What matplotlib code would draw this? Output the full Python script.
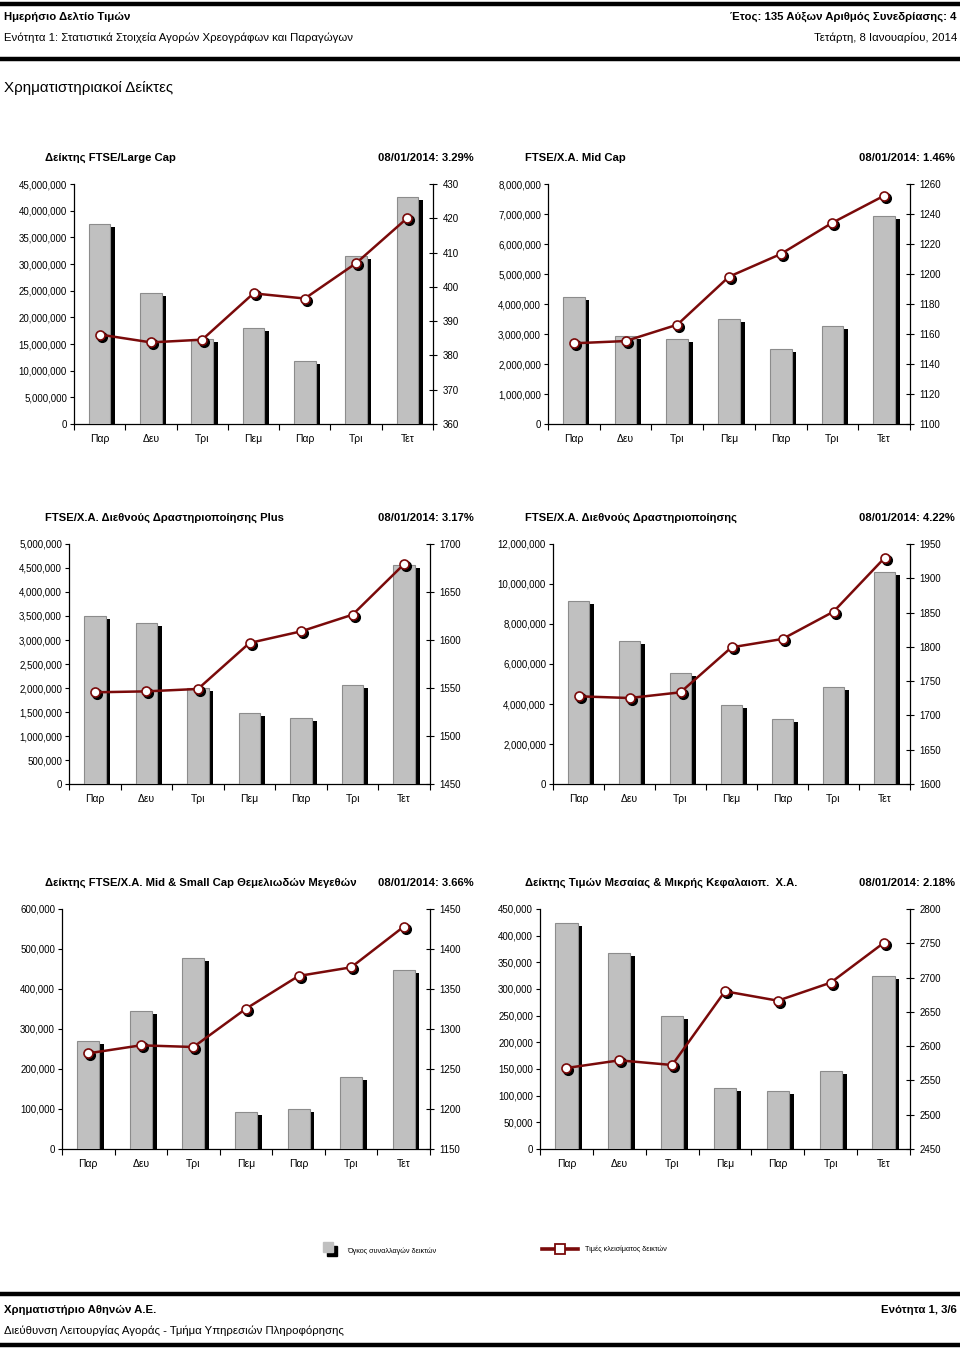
import numpy as np
import matplotlib
matplotlib.use('Agg')
import matplotlib.pyplot as plt
from matplotlib import font_manager
from matplotlib.patches import Rectangle
from matplotlib.lines import Line2D
from matplotlib.ticker import FuncFormatter, MultipleLocator, FixedLocator
from matplotlib.transforms import offset_copy

# fonts: Arial-like, narrow variant for headings if available
names = {f.name for f in font_manager.fontManager.ttflist}
SANS = 'Liberation Sans' if 'Liberation Sans' in names else 'DejaVu Sans'
NARROW = 'Liberation Sans Narrow' if 'Liberation Sans Narrow' in names else SANS
plt.rcParams['font.family'] = [SANS, 'DejaVu Sans']
# narrow font missing -> shrink the heading sizes instead
shrink = 1.0 if NARROW != SANS else 0.84

days = ['Παρ', 'Δευ', 'Τρι', 'Πεμ', 'Παρ', 'Τρι', 'Τετ']

# volumes (left axis) and closing prices (right axis)
large_vol = [37.5e6, 24.5e6, 15.9e6, 18.0e6, 11.9e6, 31.5e6, 42.6e6]
large_close = [386.1, 383.8, 384.6, 398.1, 396.6, 406.9, 420.1]
mid_vol = [4.23e6, 2.94e6, 2.83e6, 3.50e6, 2.49e6, 3.26e6, 6.92e6]
mid_close = [1153.8, 1155.3, 1166.2, 1198.2, 1213.3, 1234.2, 1252.2]
plus_vol = [3.51e6, 3.35e6, 2.01e6, 1.47e6, 1.38e6, 2.06e6, 4.56e6]
plus_close = [1545.5, 1546.5, 1549.0, 1596.9, 1609.0, 1626.4, 1679.2]
intl_vol = [9.15e6, 7.15e6, 5.55e6, 3.95e6, 3.25e6, 4.85e6, 10.62e6]
intl_close = [1727.9, 1725.4, 1733.7, 1799.3, 1811.5, 1851.3, 1929.6]
msf_vol = [270.8e3, 344e3, 478e3, 91.7e3, 100e3, 181e3, 446.7e3]
msf_close = [1269.6, 1279.6, 1277.5, 1325.4, 1366.3, 1377.1, 1427.9]
msc_vol = [423e3, 368e3, 250e3, 113.7e3, 108.7e3, 146.9e3, 325e3]
msc_close = [2568.1, 2579.3, 2572.5, 2680.0, 2666.3, 2692.6, 2750.4]

titles = ['Δείκτης FTSE/Large Cap',
          'FTSE/Χ.Α. Mid Cap',
          'FTSE/Χ.Α. Διεθνούς Δραστηριοποίησης Plus',
          'FTSE/Χ.Α. Διεθνούς Δραστηριοποίησης',
          'Δείκτης FTSE/Χ.Α. Mid & Small Cap Θεμελιωδών Μεγεθών',
          'Δείκτης Τιμών Μεσαίας & Μικρής Κεφαλαιοπ.  Χ.Α.']
changes = ['08/01/2014: 3.29%', '08/01/2014: 1.46%', '08/01/2014: 3.17%',
           '08/01/2014: 4.22%', '08/01/2014: 3.66%', '08/01/2014: 2.18%']

vol_axis = [(45e6, 5e6), (8e6, 1e6), (5e6, 5e5), (12e6, 2e6), (6e5, 1e5), (4.5e5, 5e4)]
close_axis = [(360, 430, 10), (1100, 1260, 20), (1450, 1700, 50),
              (1600, 1950, 50), (1150, 1450, 50), (2450, 2800, 50)]
vols = [large_vol, mid_vol, plus_vol, intl_vol, msf_vol, msc_vol]
closes = [large_close, mid_close, plus_close, intl_close, msf_close, msc_close]

W, H = 960, 1348
fig = plt.figure(figsize=(W / 100, H / 100), dpi=100)


def fx(x):
    return x / W


def fy(y):
    return 1 - y / H


# axes boxes in pixels: left, right, top, bottom
boxes = [(74, 433, 184, 424), (548, 910, 184, 424),
         (69, 430, 544, 784), (553, 910, 544, 784),
         (62, 430, 909, 1149), (540, 910, 909, 1149)]
title_x = [(45, 474), (525, 955)]

RED = '#7a0a0a'
x = np.arange(len(days))
nf = [NARROW, 'DejaVu Sans']

for i, (l, r, t, b) in enumerate(boxes):
    ax = fig.add_axes([fx(l), fy(b), fx(r) - fx(l), (b - t) / H])
    ax2 = ax.twinx()
    vmax, vstep = vol_axis[i]
    cmin, cmax, cstep = close_axis[i]
    v = np.array(vols[i])

    # shadow bars then gray bars
    pxu = vmax / (b - t)
    ax.bar(x + 0.09, v - 3 * pxu, width=0.42, color='black', zorder=2)
    ax.bar(x, v, width=0.42, color='#c0c0c0', edgecolor='#8c8c8c', lw=0.8, zorder=3)

    ax.set_xlim(-0.5, len(days) - 0.5)
    ax.set_ylim(0, vmax)
    ax.yaxis.set_major_locator(MultipleLocator(vstep))
    ax.yaxis.set_major_formatter(FuncFormatter(lambda val, p: f'{val:,.0f}'))
    ax.xaxis.set_major_locator(FixedLocator(np.arange(-0.5, len(days), 1.0)))
    ax.xaxis.set_minor_locator(FixedLocator(x))
    ax.set_xticklabels([], minor=False)
    ax.set_xticklabels(days, minor=True)
    ax.tick_params(axis='x', which='major', length=4, width=0.8, direction='out')
    ax.tick_params(axis='x', which='minor', length=0, pad=7, labelsize=7.5)
    ax.tick_params(axis='y', length=3, width=0.8, pad=2, labelsize=7)
    for s in ['top', 'right']:
        ax.spines[s].set_visible(False)
    for s in ['left', 'bottom']:
        ax.spines[s].set_linewidth(0.9)

    ax2.set_ylim(cmin, cmax)
    ax2.yaxis.set_major_locator(MultipleLocator(cstep))
    ax2.tick_params(axis='y', length=6, width=0.8, direction='inout', pad=4, labelsize=7)
    for s in ['top', 'left', 'bottom']:
        ax2.spines[s].set_visible(False)
    ax2.spines['right'].set_linewidth(0.9)

    shadow = offset_copy(ax2.transData, fig=fig, x=2, y=-2, units='dots')
    ax2.plot(x, closes[i], 'o', color='black', ms=7, transform=shadow, zorder=4)
    ax2.plot(x, closes[i], '-', color=RED, lw=1.8, zorder=5)
    ax2.plot(x, closes[i], 'o', mfc='white', mec=RED, mew=1.2, ms=6.5, zorder=6)

    tl, tr = title_x[i % 2]
    ty = t - 26
    fig.text(fx(tl), fy(ty), titles[i], family=nf,
             weight='bold', fontsize=9.6 * shrink, ha='left', va='center')
    fig.text(fx(tr), fy(ty), changes[i], family=nf,
             weight='bold', fontsize=9.6 * shrink, ha='right', va='center')

# header and footer
hs = 9.8 * shrink
for yy in [4, 59, 1294, 1345]:
    fig.add_artist(Line2D([0, 1], [fy(yy), fy(yy)], color='black', lw=3.2))
fig.text(fx(4), fy(17), 'Ημερήσιο Δελτίο Τιμών', family=nf, weight='bold', fontsize=hs, va='center')
fig.text(fx(4), fy(38), 'Ενότητα 1: Στατιστικά Στοιχεία Αγορών Χρεογράφων και Παραγώγων',
         family=nf, fontsize=hs, va='center')
fig.text(fx(957), fy(17), 'Έτος: 135 Αύξων Αριθμός Συνεδρίασης: 4', family=nf,
         weight='bold', fontsize=hs, ha='right', va='center')
fig.text(fx(957), fy(38), 'Τετάρτη, 8 Ιανουαρίου, 2014', family=nf, fontsize=hs,
         ha='right', va='center')
fig.text(fx(4), fy(88), 'Χρηματιστηριακοί Δείκτες', family=nf, fontsize=13 * shrink, va='center')
fig.text(fx(4), fy(1310), 'Χρηματιστήριο Αθηνών Α.Ε.', family=nf, weight='bold',
         fontsize=hs, va='center')
fig.text(fx(957), fy(1310), 'Ενότητα 1, 3/6', family=nf, weight='bold', fontsize=hs,
         ha='right', va='center')
fig.text(fx(4), fy(1331), 'Διεύθυνση Λειτουργίας Αγοράς - Τμήμα Υπηρεσιών Πληροφόρησης',
         family=nf, fontsize=hs, va='center')

# legend
fig.add_artist(Rectangle((fx(327), fy(1256)), 10 / W, 10 / H, color='black'))
fig.add_artist(Rectangle((fx(323), fy(1252)), 10 / W, 10 / H, color='#c0c0c0'))
fig.text(fx(347), fy(1251), 'Όγκος συναλλαγών δεικτών', family=nf, fontsize=6.2 * shrink, va='center')
fig.add_artist(Line2D([fx(542), fx(578)], [fy(1249), fy(1249)], color=RED, lw=2.6))
fig.add_artist(Line2D([fx(560)], [fy(1249)], marker='s', ms=7, mfc='white', mec=RED, mew=1.3))
fig.text(fx(585), fy(1249), 'Τιμές κλεισίματος δεικτών', family=nf, fontsize=6.2 * shrink, va='center')

fig.savefig('out.png', dpi=100)
